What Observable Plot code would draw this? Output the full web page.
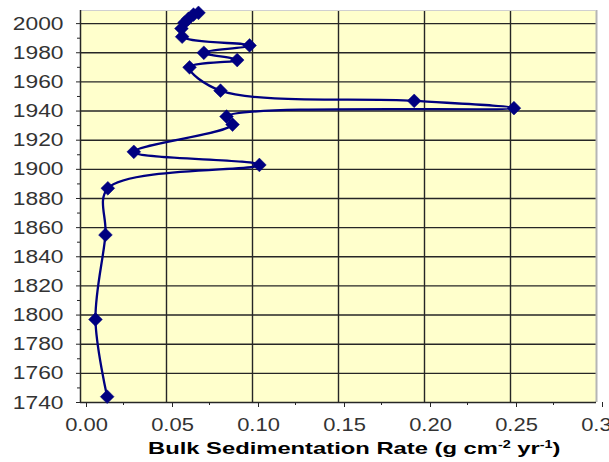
<!DOCTYPE html>
<html><head><meta charset="utf-8">
<script src="https://cdn.jsdelivr.net/npm/d3@7"></script>
<script src="https://cdn.jsdelivr.net/npm/@observablehq/plot@0.6"></script>
<style>
html,body{margin:0;padding:0;background:#fff;overflow:hidden;}
#wrap{position:relative;width:609px;height:462px;overflow:hidden;}
#wrap svg{position:absolute;left:0;top:0;}
#xlabel{position:absolute;left:148px;top:438px;white-space:nowrap;font-family:"Liberation Sans",Arial,sans-serif;font-weight:bold;font-size:16.5px;color:#000;transform:scaleX(1.44);transform-origin:0 0;line-height:20px;}
#xlabel sup{font-size:10px;vertical-align:6px;line-height:0;}
</style></head><body><div id="wrap"><div id="xlabel">Bulk Sedimentation Rate (g cm<sup>-2</sup> yr<sup>-1</sup>)</div></div>
<script>
// Data
const years = [1744, 1797, 1855, 1887, 1903, 1912, 1930.7, 1936.2, 1942, 1947, 1954, 1970, 1975, 1980, 1985, 1991, 1996.6, 2000.7, 2003.4, 2006.2, 2007.4];
const rates = [0.0155, 0.0087, 0.0145, 0.0159, 0.104, 0.031, 0.0884, 0.0849, 0.252, 0.194, 0.0814, 0.0634, 0.0911, 0.0717, 0.0983, 0.0591, 0.0587, 0.0605, 0.0628, 0.0657, 0.0686];
const yTicks = [1740, 1760, 1780, 1800, 1820, 1840, 1860, 1880, 1900, 1920, 1940, 1960, 1980, 2000];
const yMinor = [1750, 1770, 1790, 1810, 1830, 1850, 1870, 1890, 1910, 1930, 1950, 1970, 1990];
const xTicks = [0, 0.05, 0.10, 0.15, 0.20, 0.25, 0.30];
const xMinor = [0.025, 0.075, 0.125, 0.175, 0.225, 0.275];

const data = years.map((y, i) => ({year: y, rate: rates[i]}));
const grid = "#262626";
const chart = Plot.plot({
  width: 609, height: 436,
  marginLeft: 80, marginRight: 13, marginTop: 10, marginBottom: 34,
  x: {domain: [0, 0.3]},
  y: {domain: [1740, 2009]},
  style: {background: "transparent", fontFamily: "'Liberation Sans', Arial, sans-serif"},
  marks: [
    Plot.frame({fill: "#ffffcc", stroke: null}),
    Plot.gridX(xTicks.slice(1, -1), {stroke: grid, strokeOpacity: 1, strokeWidth: 1.4}),
    Plot.gridY(yTicks.slice(1), {stroke: grid, strokeOpacity: 1, strokeWidth: 1.4}),
    Plot.ruleX([0.3], {stroke: "#b5b5b5", strokeWidth: 2}),
    Plot.ruleY([2009], {stroke: "#d0d0d0", strokeWidth: 1}),
    Plot.ruleX([0], {stroke: grid, strokeWidth: 1.5}),
    Plot.ruleY([1740], {stroke: grid, strokeWidth: 1.5}),
    Plot.axisY(yMinor, {tickSize: 3, tickFormat: () => "", label: null, stroke: grid}),
    Plot.axisY(yTicks, {tickSize: 4, tickPadding: 13, fontSize: 19, label: null, tickFormat: d => String(d), stroke: grid, fill: "#333"}),
    Plot.axisX(xMinor, {tickSize: 3, tickFormat: () => "", label: null, stroke: grid}),
    Plot.axisX(xTicks, {tickSize: 5, tickPadding: 11, fontSize: 18, label: null, tickFormat: d3.format(".2f"), stroke: grid, fill: "#333", dx: 6}),
    Plot.line(data, {x: "rate", y: "year", curve: "catmull-rom", stroke: "#000080", strokeWidth: 2.3}),
    Plot.dot(data, {x: "rate", y: "year", symbol: "diamond2", r: 6.2, fill: "#000080", stroke: "#000080", strokeWidth: 0.5})
  ]
});
document.getElementById("wrap").prepend(chart);
// stretch tick labels horizontally like the reference
chart.querySelectorAll('g[aria-label="y-axis tick label"] text').forEach(t => {
  t.setAttribute("transform", (t.getAttribute("transform") || "") + " scale(1.2,1)");
});
chart.querySelectorAll('g[aria-label="x-axis tick label"] text').forEach(t => {
  t.setAttribute("transform", (t.getAttribute("transform") || "") + " scale(1.22,1)");
});
</script>
</body></html>
